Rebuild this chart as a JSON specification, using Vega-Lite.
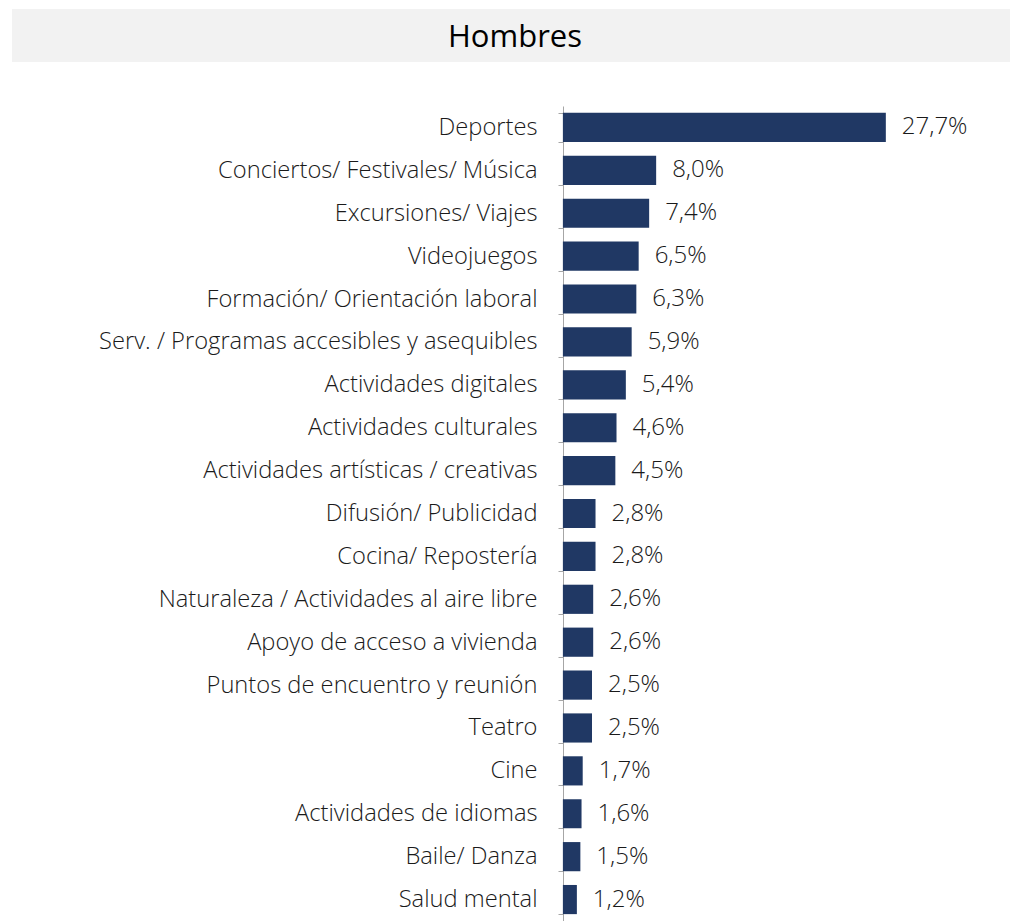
{
  "$schema": "https://vega.github.io/schema/vega-lite/v6.json",
  "padding": {"left": 12, "top": 9, "right": 0, "bottom": 0},
  "background": "white",
  "spacing": 32,
  "config": {
    "locale": {"number": {"decimal": ",", "thousands": ".", "grouping": [3], "currency": ["", " €"]}},
    "view": {"stroke": null},
    "font": "Open Sans"
  },
  "datasets": {
    "rows": [
      {"cat": "Deportes", "v": 0.277},
      {"cat": "Conciertos/ Festivales/ Música", "v": 0.080},
      {"cat": "Excursiones/ Viajes", "v": 0.074},
      {"cat": "Videojuegos", "v": 0.065},
      {"cat": "Formación/ Orientación laboral", "v": 0.063},
      {"cat": "Serv. / Programas accesibles y asequibles", "v": 0.059},
      {"cat": "Actividades digitales", "v": 0.054},
      {"cat": "Actividades culturales", "v": 0.046},
      {"cat": "Actividades artísticas / creativas", "v": 0.045},
      {"cat": "Difusión/ Publicidad", "v": 0.028},
      {"cat": "Cocina/ Repostería", "v": 0.028},
      {"cat": "Naturaleza / Actividades al aire libre", "v": 0.026},
      {"cat": "Apoyo de acceso a vivienda ", "v": 0.026},
      {"cat": "Puntos de encuentro y reunión", "v": 0.025},
      {"cat": "Teatro", "v": 0.025},
      {"cat": "Cine", "v": 0.017},
      {"cat": "Actividades de idiomas", "v": 0.016},
      {"cat": "Baile/ Danza", "v": 0.015},
      {"cat": "Salud mental", "v": 0.012}
    ]
  },
  "vconcat": [
    {
      "width": 998,
      "height": 53,
      "view": {"fill": "#F2F2F2", "stroke": null},
      "data": {"values": [{"t": "Hombres"}]},
      "mark": {"type": "text", "fontSize": 31, "font": "Open Sans", "color": "#000000", "dy": 2, "dx": 4},
      "encoding": {"text": {"field": "t"}}
    },
    {
      "width": 998,
      "height": 815,
      "data": {"name": "rows"},
      "encoding": {
        "y": {
          "field": "cat",
          "type": "nominal",
          "sort": null,
          "scale": {"paddingInner": 0.32, "paddingOuter": 0.16},
          "axis": {
            "title": null,
            "offset": -551,
            "tickBand": "extent",
            "tickSize": 5,
            "tickColor": "#A6A6A6",
            "domainColor": "#A6A6A6",
            "labelPadding": 21,
            "labelFontSize": 23.7,
            "labelFont": "Open Sans",
            "labelFontWeight": 300,
            "labelColor": "#1A1A1A",
            "labelLimit": 0
          }
        },
        "x": {
          "field": "v",
          "type": "quantitative",
          "scale": {"domain": [-0.4725, 0.3835], "zero": false, "nice": false},
          "axis": null
        }
      },
      "layer": [
        {"mark": {"type": "bar", "color": "#203864"}},
        {
          "mark": {"type": "text", "align": "left", "baseline": "middle", "dx": 16, "fontSize": 24, "fontWeight": 300, "color": "#1A1A1A"},
          "encoding": {"text": {"field": "v", "type": "quantitative", "format": ".1%"}}
        }
      ]
    }
  ]
}
